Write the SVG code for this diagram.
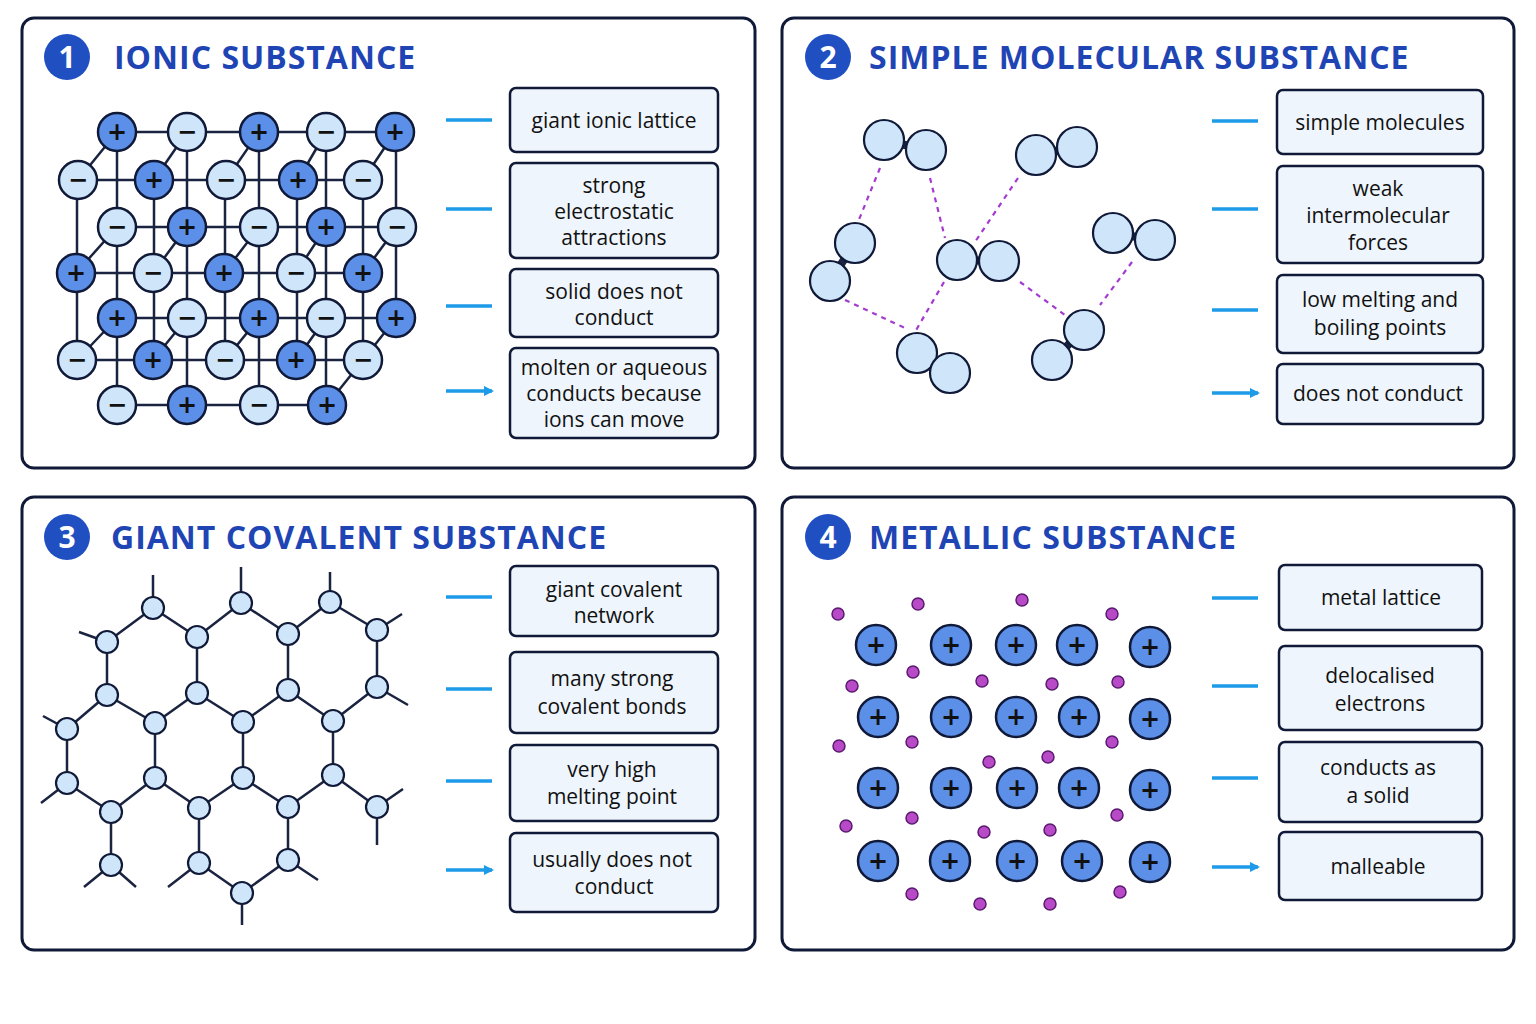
<svg xmlns="http://www.w3.org/2000/svg" width="1536" height="1024" viewBox="0 0 1536 1024">
<defs>
<style>
.panel{fill:#fff;stroke:#101a38;stroke-width:3}
.num{fill:#1f4fc0}
.numt{font:bold 30px "Open Sans",sans-serif;fill:#fff;text-anchor:middle}
.title{font:bold 32px "Open Sans",sans-serif;fill:#1f45b5;letter-spacing:1px}
.box{fill:#eef5fc;stroke:#101a38;stroke-width:2.5}
.bt{font:21px "Open Sans",sans-serif;fill:#111;text-anchor:middle}
.arr{stroke:#1e9be8;stroke-width:3.5;fill:none;marker-end:url(#ah)}
.ln{stroke:#1a2440;stroke-width:2.5;fill:none}
.pos{fill:#5b8fe8;stroke:#101a38;stroke-width:2.5}
.neg{fill:#cfe6fa;stroke:#101a38;stroke-width:2.5}
.sg{font:bold 24px "DejaVu Sans",sans-serif;fill:#111;text-anchor:middle}
.at{fill:#cfe6fa;stroke:#101a38;stroke-width:2.2}
.dash{stroke:#a43ad0;stroke-width:2.2;stroke-dasharray:5 5;fill:none}
.el{fill:#b84ac8;stroke:#5a1a70;stroke-width:1.5}
</style>
<marker id="ah" markerWidth="10" markerHeight="10" refX="8" refY="5" orient="auto" markerUnits="userSpaceOnUse"><path d="M0,0 L10,5 L0,10 z" fill="#1e9be8"/></marker>
</defs>
<rect width="1536" height="1024" fill="#fff"/>

<g id="panel1">
<rect class="panel" x="22" y="18" width="733" height="450" rx="12"/>
<circle class="num" cx="67" cy="57" r="23"/><text class="numt" x="67" y="68">1</text>
<text class="title" x="114" y="69">IONIC SUBSTANCE</text>
<g id="lattice">
<g class="ln">
<path d="M117,132H395M117,227H397M117,318H396M117,405H327"/>
<path d="M117,132V405M187,132V405M259,132V405M326,132V405M396,132V318"/>
<path d="M78,180H363M76,273H363M77,360H363"/>
<path d="M77,180V360M154,180V360M225,180V360M297,180V360M363,180V360"/>
<path d="M78,180L117,132M154,180L187,132M226,180L259,132M298,180L326,132M363,180L395,132"/>
<path d="M76,273L117,227M153,273L187,227M224,273L259,227M296,273L326,227M363,273L397,227"/>
<path d="M77,360L117,318M153,360L187,318M225,360L259,318M296,360L326,318M363,360L396,318"/>
<path d="M363,360L327,405"/>
</g>
<g id="ions">
<circle class="neg" cx="78" cy="180" r="19"/><text class="sg" x="78" y="188">−</text>
<circle class="pos" cx="154" cy="180" r="19"/><text class="sg" x="154" y="188">+</text>
<circle class="neg" cx="226" cy="180" r="19"/><text class="sg" x="226" y="188">−</text>
<circle class="pos" cx="298" cy="180" r="19"/><text class="sg" x="298" y="188">+</text>
<circle class="neg" cx="363" cy="180" r="19"/><text class="sg" x="363" y="188">−</text>
<circle class="pos" cx="76" cy="273" r="19"/><text class="sg" x="76" y="281">+</text>
<circle class="neg" cx="153" cy="273" r="19"/><text class="sg" x="153" y="281">−</text>
<circle class="pos" cx="224" cy="273" r="19"/><text class="sg" x="224" y="281">+</text>
<circle class="neg" cx="296" cy="273" r="19"/><text class="sg" x="296" y="281">−</text>
<circle class="pos" cx="363" cy="273" r="19"/><text class="sg" x="363" y="281">+</text>
<circle class="neg" cx="77" cy="360" r="19"/><text class="sg" x="77" y="368">−</text>
<circle class="pos" cx="153" cy="360" r="19"/><text class="sg" x="153" y="368">+</text>
<circle class="neg" cx="225" cy="360" r="19"/><text class="sg" x="225" y="368">−</text>
<circle class="pos" cx="296" cy="360" r="19"/><text class="sg" x="296" y="368">+</text>
<circle class="neg" cx="363" cy="360" r="19"/><text class="sg" x="363" y="368">−</text>
<circle class="pos" cx="117" cy="132" r="19"/><text class="sg" x="117" y="140">+</text>
<circle class="neg" cx="187" cy="132" r="19"/><text class="sg" x="187" y="140">−</text>
<circle class="pos" cx="259" cy="132" r="19"/><text class="sg" x="259" y="140">+</text>
<circle class="neg" cx="326" cy="132" r="19"/><text class="sg" x="326" y="140">−</text>
<circle class="pos" cx="395" cy="132" r="19"/><text class="sg" x="395" y="140">+</text>
<circle class="neg" cx="117" cy="227" r="19"/><text class="sg" x="117" y="235">−</text>
<circle class="pos" cx="187" cy="227" r="19"/><text class="sg" x="187" y="235">+</text>
<circle class="neg" cx="259" cy="227" r="19"/><text class="sg" x="259" y="235">−</text>
<circle class="pos" cx="326" cy="227" r="19"/><text class="sg" x="326" y="235">+</text>
<circle class="neg" cx="397" cy="227" r="19"/><text class="sg" x="397" y="235">−</text>
<circle class="pos" cx="117" cy="318" r="19"/><text class="sg" x="117" y="326">+</text>
<circle class="neg" cx="187" cy="318" r="19"/><text class="sg" x="187" y="326">−</text>
<circle class="pos" cx="259" cy="318" r="19"/><text class="sg" x="259" y="326">+</text>
<circle class="neg" cx="326" cy="318" r="19"/><text class="sg" x="326" y="326">−</text>
<circle class="pos" cx="396" cy="318" r="19"/><text class="sg" x="396" y="326">+</text>
<circle class="neg" cx="117" cy="405" r="19"/><text class="sg" x="117" y="413">−</text>
<circle class="pos" cx="187" cy="405" r="19"/><text class="sg" x="187" y="413">+</text>
<circle class="neg" cx="259" cy="405" r="19"/><text class="sg" x="259" y="413">−</text>
<circle class="pos" cx="327" cy="405" r="19"/><text class="sg" x="327" y="413">+</text>
</g>
</g>
<g id="b1a"><rect class="box" x="510" y="88" width="208" height="64" rx="6"/><text class="bt" x="614" y="128">giant ionic lattice</text></g>
<g id="b1b"><rect class="box" x="510" y="163" width="208" height="95" rx="6"/><text class="bt" x="614" y="193">strong</text><text class="bt" x="614" y="219">electrostatic</text><text class="bt" x="614" y="245">attractions</text></g>
<g id="b1c"><rect class="box" x="510" y="269" width="208" height="68" rx="6"/><text class="bt" x="614" y="299">solid does not</text><text class="bt" x="614" y="325">conduct</text></g>
<g id="b1d"><rect class="box" x="510" y="348" width="208" height="90" rx="6"/><text class="bt" x="614" y="375">molten or aqueous</text><text class="bt" x="614" y="401">conducts because</text><text class="bt" x="614" y="427">ions can move</text></g>
</g>

<g id="panel2">
<rect class="panel" x="782" y="18" width="732" height="450" rx="12"/>
<circle class="num" cx="828" cy="57" r="23"/><text class="numt" x="828" y="68">2</text>
<text class="title" x="869" y="69">SIMPLE MOLECULAR SUBSTANCE</text>
<g id="molecules">
<path class="dash" d="M880,168L858,222M930,178L945,238M1018,178L975,242M944,282L915,332M845,300L905,328M1020,282L1065,315M1132,262L1100,305"/>
<g class="ln"><path d="M884,140L926,150M855,243L830,281M1036,155L1077,147M957,260L999,261M1113,233L1155,240M917,353L950,373M1084,330L1052,360" stroke-width="8"/></g>
<g>
<circle class="at" cx="884" cy="140" r="20"/><circle class="at" cx="926" cy="150" r="20"/>
<circle class="at" cx="855" cy="243" r="20"/><circle class="at" cx="830" cy="281" r="20"/>
<circle class="at" cx="1036" cy="155" r="20"/><circle class="at" cx="1077" cy="147" r="20"/>
<circle class="at" cx="957" cy="260" r="20"/><circle class="at" cx="999" cy="261" r="20"/>
<circle class="at" cx="1113" cy="233" r="20"/><circle class="at" cx="1155" cy="240" r="20"/>
<circle class="at" cx="917" cy="353" r="20"/><circle class="at" cx="950" cy="373" r="20"/>
<circle class="at" cx="1084" cy="330" r="20"/><circle class="at" cx="1052" cy="360" r="20"/>
</g>
</g>
<g id="b2a"><rect class="box" x="1277" y="90" width="206" height="64" rx="6"/><text class="bt" x="1380" y="130">simple molecules</text></g>
<g id="b2b"><rect class="box" x="1277" y="166" width="206" height="97" rx="6"/><text class="bt" x="1378" y="196">weak</text><text class="bt" x="1378" y="223">intermolecular</text><text class="bt" x="1378" y="250">forces</text></g>
<g id="b2c"><rect class="box" x="1277" y="275" width="206" height="78" rx="6"/><text class="bt" x="1380" y="307">low melting and</text><text class="bt" x="1380" y="335">boiling points</text></g>
<g id="b2d"><rect class="box" x="1277" y="364" width="206" height="60" rx="6"/><text class="bt" x="1378" y="401">does not conduct</text></g>
</g>

<g id="panel3">
<rect class="panel" x="22" y="497" width="733" height="453" rx="12"/>
<circle class="num" cx="67" cy="537" r="23"/><text class="numt" x="67" y="548">3</text>
<text class="title" x="111" y="549">GIANT COVALENT SUBSTANCE</text>
<g id="network">
<path class="ln" d="M153,608L107,642M153,608L197,637M241,603L197,637M241,603L288,634M330,602L288,634M330,602L377,630M107,642L107,695M197,637L197,693M288,634L288,690M377,630L377,687M107,695L67,729M107,695L155,723M197,693L155,723M197,693L243,722M288,690L243,722M288,690L333,721M377,687L333,721M67,729L67,783M155,723L155,778M243,722L243,778M333,721L333,775M67,783L111,812M155,778L111,812M155,778L199,808M243,778L199,808M243,778L288,807M333,775L288,807M333,775L377,807M111,812L111,865M199,808L199,863M288,807L288,860M199,863L242,893M288,860L242,893M153,608V575M241,603V567M330,602V572M107,642L79,632M377,630L402,614M377,687L408,705M67,729L43,716M67,783L41,803M377,807L403,789M377,807V845M111,865L84,887M111,865L136,887M199,863L168,887M288,860L318,880M242,893V925"/>
<g>
<circle class="at" cx="153" cy="608" r="11"/><circle class="at" cx="241" cy="603" r="11"/><circle class="at" cx="330" cy="602" r="11"/>
<circle class="at" cx="107" cy="642" r="11"/><circle class="at" cx="197" cy="637" r="11"/><circle class="at" cx="288" cy="634" r="11"/><circle class="at" cx="377" cy="630" r="11"/>
<circle class="at" cx="107" cy="695" r="11"/><circle class="at" cx="197" cy="693" r="11"/><circle class="at" cx="288" cy="690" r="11"/><circle class="at" cx="377" cy="687" r="11"/>
<circle class="at" cx="67" cy="729" r="11"/><circle class="at" cx="155" cy="723" r="11"/><circle class="at" cx="243" cy="722" r="11"/><circle class="at" cx="333" cy="721" r="11"/>
<circle class="at" cx="67" cy="783" r="11"/><circle class="at" cx="155" cy="778" r="11"/><circle class="at" cx="243" cy="778" r="11"/><circle class="at" cx="333" cy="775" r="11"/>
<circle class="at" cx="111" cy="812" r="11"/><circle class="at" cx="199" cy="808" r="11"/><circle class="at" cx="288" cy="807" r="11"/><circle class="at" cx="377" cy="807" r="11"/>
<circle class="at" cx="111" cy="865" r="11"/><circle class="at" cx="199" cy="863" r="11"/><circle class="at" cx="288" cy="860" r="11"/><circle class="at" cx="242" cy="893" r="11"/>
</g>
</g>
<g id="b3a"><rect class="box" x="510" y="566" width="208" height="70" rx="6"/><text class="bt" x="614" y="597">giant covalent</text><text class="bt" x="614" y="623">network</text></g>
<g id="b3b"><rect class="box" x="510" y="652" width="208" height="81" rx="6"/><text class="bt" x="612" y="686">many strong</text><text class="bt" x="612" y="714">covalent bonds</text></g>
<g id="b3c"><rect class="box" x="510" y="745" width="208" height="76" rx="6"/><text class="bt" x="612" y="777">very high</text><text class="bt" x="612" y="804">melting point</text></g>
<g id="b3d"><rect class="box" x="510" y="833" width="208" height="79" rx="6"/><text class="bt" x="612" y="867">usually does not</text><text class="bt" x="614" y="894">conduct</text></g>
</g>

<g id="panel4">
<rect class="panel" x="782" y="497" width="732" height="453" rx="12"/>
<circle class="num" cx="828" cy="537" r="23"/><text class="numt" x="828" y="548">4</text>
<text class="title" x="869" y="549">METALLIC SUBSTANCE</text>
<g id="metal">
<g>
<circle class="pos" cx="876" cy="645" r="20"/><text class="sg" x="876" y="653">+</text>
<circle class="pos" cx="951" cy="645" r="20"/><text class="sg" x="951" y="653">+</text>
<circle class="pos" cx="1016" cy="645" r="20"/><text class="sg" x="1016" y="653">+</text>
<circle class="pos" cx="1077" cy="645" r="20"/><text class="sg" x="1077" y="653">+</text>
<circle class="pos" cx="1150" cy="647" r="20"/><text class="sg" x="1150" y="655">+</text>
<circle class="pos" cx="878" cy="717" r="20"/><text class="sg" x="878" y="725">+</text>
<circle class="pos" cx="951" cy="717" r="20"/><text class="sg" x="951" y="725">+</text>
<circle class="pos" cx="1016" cy="717" r="20"/><text class="sg" x="1016" y="725">+</text>
<circle class="pos" cx="1079" cy="717" r="20"/><text class="sg" x="1079" y="725">+</text>
<circle class="pos" cx="1150" cy="719" r="20"/><text class="sg" x="1150" y="727">+</text>
<circle class="pos" cx="878" cy="788" r="20"/><text class="sg" x="878" y="796">+</text>
<circle class="pos" cx="951" cy="788" r="20"/><text class="sg" x="951" y="796">+</text>
<circle class="pos" cx="1017" cy="788" r="20"/><text class="sg" x="1017" y="796">+</text>
<circle class="pos" cx="1079" cy="788" r="20"/><text class="sg" x="1079" y="796">+</text>
<circle class="pos" cx="1150" cy="790" r="20"/><text class="sg" x="1150" y="798">+</text>
<circle class="pos" cx="878" cy="861" r="20"/><text class="sg" x="878" y="869">+</text>
<circle class="pos" cx="950" cy="861" r="20"/><text class="sg" x="950" y="869">+</text>
<circle class="pos" cx="1017" cy="861" r="20"/><text class="sg" x="1017" y="869">+</text>
<circle class="pos" cx="1082" cy="861" r="20"/><text class="sg" x="1082" y="869">+</text>
<circle class="pos" cx="1150" cy="862" r="20"/><text class="sg" x="1150" y="870">+</text>
</g>
<g>
<circle class="el" cx="838" cy="614" r="6"/><circle class="el" cx="918" cy="604" r="6"/><circle class="el" cx="1022" cy="600" r="6"/><circle class="el" cx="1112" cy="614" r="6"/>
<circle class="el" cx="852" cy="686" r="6"/><circle class="el" cx="913" cy="672" r="6"/><circle class="el" cx="982" cy="681" r="6"/><circle class="el" cx="1052" cy="684" r="6"/><circle class="el" cx="1118" cy="682" r="6"/>
<circle class="el" cx="839" cy="746" r="6"/><circle class="el" cx="912" cy="742" r="6"/><circle class="el" cx="989" cy="762" r="6"/><circle class="el" cx="1048" cy="757" r="6"/><circle class="el" cx="1112" cy="742" r="6"/>
<circle class="el" cx="846" cy="826" r="6"/><circle class="el" cx="912" cy="818" r="6"/><circle class="el" cx="984" cy="832" r="6"/><circle class="el" cx="1050" cy="830" r="6"/><circle class="el" cx="1117" cy="815" r="6"/>
<circle class="el" cx="912" cy="894" r="6"/><circle class="el" cx="980" cy="904" r="6"/><circle class="el" cx="1050" cy="904" r="6"/><circle class="el" cx="1120" cy="892" r="6"/>
</g>
</g>
<g id="b4a"><rect class="box" x="1279" y="565" width="203" height="65" rx="6"/><text class="bt" x="1381" y="605">metal lattice</text></g>
<g id="b4b"><rect class="box" x="1279" y="646" width="203" height="84" rx="6"/><text class="bt" x="1380" y="683">delocalised</text><text class="bt" x="1380" y="711">electrons</text></g>
<g id="b4c"><rect class="box" x="1279" y="742" width="203" height="80" rx="6"/><text class="bt" x="1378" y="775">conducts as</text><text class="bt" x="1378" y="803">a solid</text></g>
<g id="b4d"><rect class="box" x="1279" y="832" width="203" height="68" rx="6"/><text class="bt" x="1378" y="874">malleable</text></g>
</g>

<g id="connectors">
<path class="arr" d="M446,120H492M446,209H492M446,306H492M446,391H492"/>
<path class="arr" d="M1212,121H1258M1212,209H1258M1212,310H1258M1212,393H1258"/>
<path class="arr" d="M446,597H492M446,689H492M446,781H492M446,870H492"/>
<path class="arr" d="M1212,598H1258M1212,686H1258M1212,778H1258M1212,867H1258"/>
</g>
</svg>
